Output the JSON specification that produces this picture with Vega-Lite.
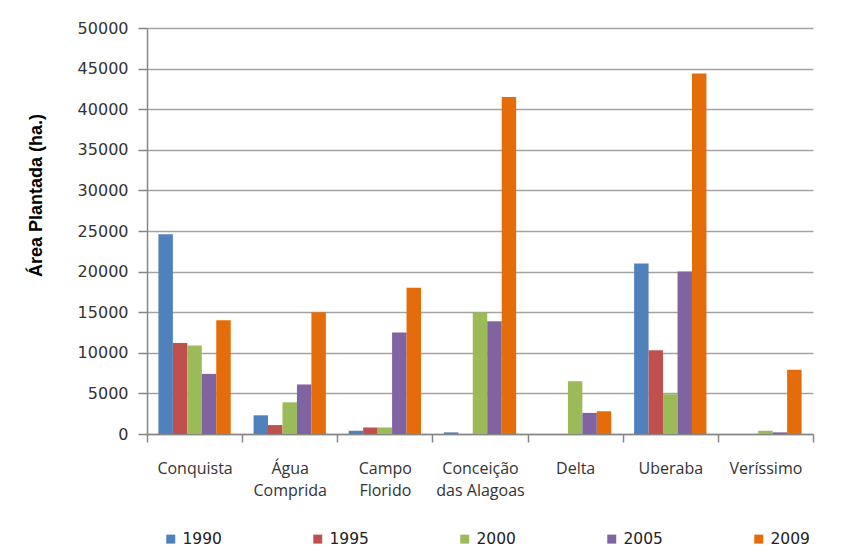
{
  "$schema": "https://vega.github.io/schema/vega-lite/v6.json",
  "width": 666,
  "height": 406,
  "autosize": {"type": "none"},
  "padding": {"left": 147, "top": 28, "right": 37, "bottom": 122},
  "background": "white",
  "data": {
    "values": [
      {"municipio": "Conquista", "ano": "1990", "area": 24600},
      {"municipio": "Conquista", "ano": "1995", "area": 11200},
      {"municipio": "Conquista", "ano": "2000", "area": 10900},
      {"municipio": "Conquista", "ano": "2005", "area": 7400},
      {"municipio": "Conquista", "ano": "2009", "area": 14000},
      {"municipio": "Água Comprida", "ano": "1990", "area": 2300},
      {"municipio": "Água Comprida", "ano": "1995", "area": 1100},
      {"municipio": "Água Comprida", "ano": "2000", "area": 3900},
      {"municipio": "Água Comprida", "ano": "2005", "area": 6100},
      {"municipio": "Água Comprida", "ano": "2009", "area": 15000},
      {"municipio": "Campo Florido", "ano": "1990", "area": 400},
      {"municipio": "Campo Florido", "ano": "1995", "area": 800},
      {"municipio": "Campo Florido", "ano": "2000", "area": 800},
      {"municipio": "Campo Florido", "ano": "2005", "area": 12500},
      {"municipio": "Campo Florido", "ano": "2009", "area": 18000},
      {"municipio": "Conceição das Alagoas", "ano": "1990", "area": 200},
      {"municipio": "Conceição das Alagoas", "ano": "1995", "area": 0},
      {"municipio": "Conceição das Alagoas", "ano": "2000", "area": 15000},
      {"municipio": "Conceição das Alagoas", "ano": "2005", "area": 13900},
      {"municipio": "Conceição das Alagoas", "ano": "2009", "area": 41500},
      {"municipio": "Delta", "ano": "1990", "area": 0},
      {"municipio": "Delta", "ano": "1995", "area": 0},
      {"municipio": "Delta", "ano": "2000", "area": 6500},
      {"municipio": "Delta", "ano": "2005", "area": 2600},
      {"municipio": "Delta", "ano": "2009", "area": 2800},
      {"municipio": "Uberaba", "ano": "1990", "area": 21000},
      {"municipio": "Uberaba", "ano": "1995", "area": 10300},
      {"municipio": "Uberaba", "ano": "2000", "area": 4900},
      {"municipio": "Uberaba", "ano": "2005", "area": 20000},
      {"municipio": "Uberaba", "ano": "2009", "area": 44400},
      {"municipio": "Veríssimo", "ano": "1990", "area": 0},
      {"municipio": "Veríssimo", "ano": "1995", "area": 0},
      {"municipio": "Veríssimo", "ano": "2000", "area": 400},
      {"municipio": "Veríssimo", "ano": "2005", "area": 200},
      {"municipio": "Veríssimo", "ano": "2009", "area": 7900}
    ]
  },
  "mark": {"type": "bar"},
  "encoding": {
    "x": {
      "field": "municipio",
      "type": "nominal",
      "sort": null,
      "scale": {"paddingInner": 0.24, "paddingOuter": 0.12},
      "axis": {
        "title": null,
        "labelAngle": 0,
        "bandPosition": 1.316,
        "tickExtra": true,
        "tickOffset": -11.42,
        "labelOffset": 11.42,
        "labelExpr": "datum.label == 'Conceição das Alagoas' ? ['Conceição', 'das Alagoas'] : split(datum.label, ' ')",
        "domainColor": "#868686",
        "domainWidth": 1.5,
        "tickColor": "#868686",
        "tickWidth": 1.5,
        "tickSize": 8,
        "labelPadding": 18,
        "labelFont": "Open Sans",
        "labelFontSize": 16,
        "labelColor": "#333333",
        "labelLineHeight": 22,
        "labelBaseline": "top",
        "grid": false
      }
    },
    "xOffset": {"field": "ano", "type": "nominal", "scale": {"paddingInner": 0}},
    "y": {
      "field": "area",
      "type": "quantitative",
      "scale": {"domain": [0, 50000], "nice": false},
      "axis": {
        "title": "Área Plantada  (ha.)",
        "values": [0, 5000, 10000, 15000, 20000, 25000, 30000, 35000, 40000, 45000, 50000],
        "format": "d",
        "grid": true,
        "gridColor": "#a3a3a3",
        "gridWidth": 1.5,
        "domainColor": "#868686",
        "domainWidth": 1.5,
        "tickColor": "#868686",
        "tickWidth": 1.5,
        "tickSize": 9,
        "labelPadding": 10,
        "labelFont": "DejaVu Sans",
        "labelFontSize": 16,
        "labelColor": "#333333",
        "titleFont": "Liberation Sans",
        "titleFontWeight": "bold",
        "titleFontSize": 18,
        "titleColor": "#000000",
        "titleX": -106,
        "titleY": 167,
        "titleAlign": "center",
        "titleBaseline": "alphabetic",
        "titleAngle": 270
      }
    },
    "color": {
      "field": "ano",
      "type": "nominal",
      "scale": {
        "domain": ["1990", "1995", "2000", "2005", "2009"],
        "range": ["#4F81BD", "#C0504D", "#9BBB59", "#8064A2", "#E46C0A"]
      },
      "legend": {
        "title": null,
        "orient": "none",
        "legendX": 16,
        "legendY": 503,
        "direction": "horizontal",
        "columns": 5,
        "columnPadding": 88,
        "symbolType": "square",
        "symbolSize": 81,
        "symbolStrokeWidth": 0,
        "labelFont": "DejaVu Sans",
        "labelFontSize": 15.5,
        "labelColor": "#222222",
        "labelOffset": 4
      }
    }
  },
  "config": {"view": {"stroke": null}}
}
